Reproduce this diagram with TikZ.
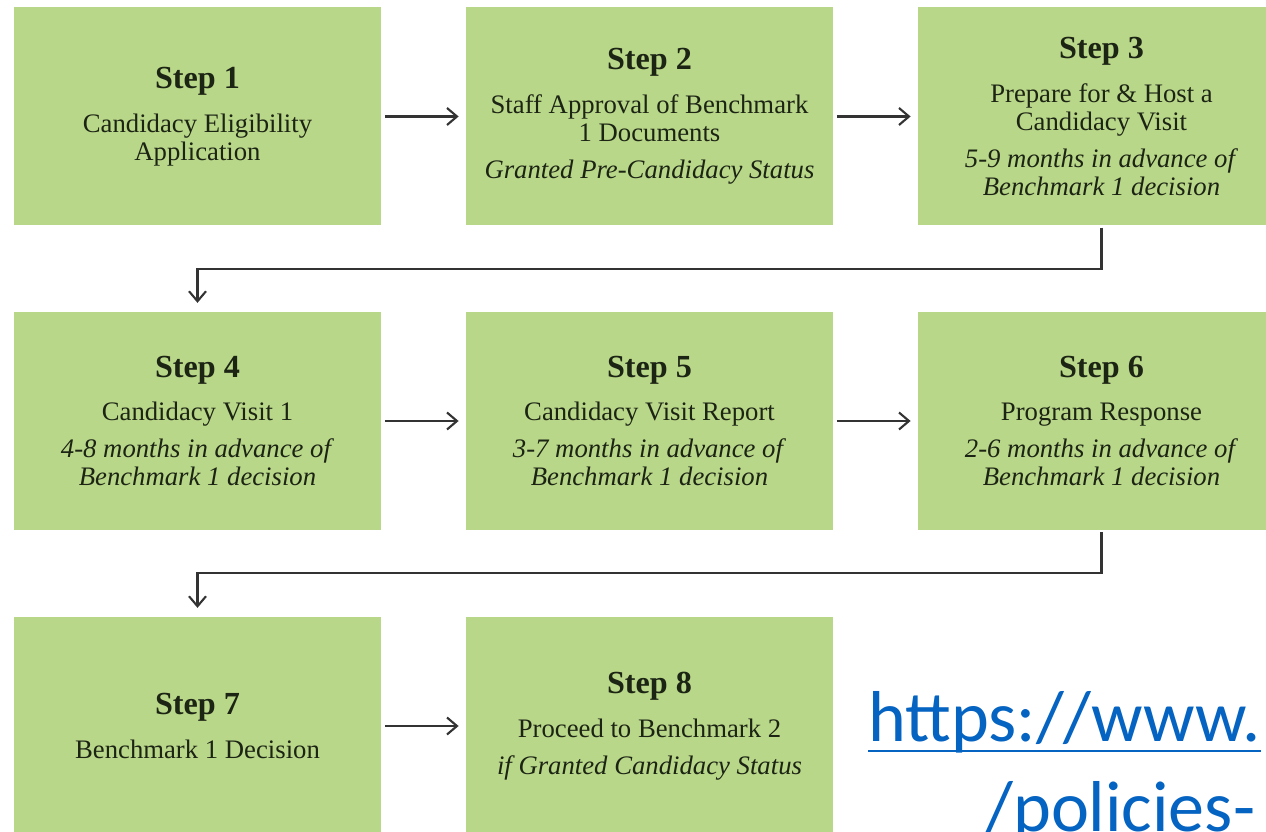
\documentclass[tikz,border=0pt]{standalone}
\usepackage{fontspec}
\setmainfont{Liberation Serif}
\newfontfamily\linkfont{Carlito}
\usepackage{xcolor}
\usepackage{tikz}
\usetikzlibrary{arrows.meta, positioning}
\definecolor{boxgreen}{RGB}{185, 215, 137}
\definecolor{textdark}{RGB}{28, 36, 20}
\definecolor{linkblue}{RGB}{5, 99, 193}
\newcommand{\stephead}[1]{{\fontsize{18.3}{16}\selectfont\bfseries Step #1}}
\tikzset{
    stepbox/.style={
        rectangle,
        fill=boxgreen,
        minimum width=7.34cm,
        minimum height=4.36cm,
        align=center,
        text=textdark,
        inner sep=0pt,
        font=\fontsize{15.2}{16}\selectfont
    },
    flow/.style={
        -{Straight Barb[length=2mm, width=3.4mm]},
        draw=black!80,
        line width=1.2pt
    },
    linktext/.style={
        anchor=base west,
        inner sep=0pt,
        text=linkblue,
        font=\linkfont\fontsize{41}{48}\selectfont
    }
}

\begin{document}
\begin{tikzpicture}
    \path[use as bounding box, clip] (0,0) rectangle (25.32,-16.64);

    % three rows of steps, read left to right
    \node[stepbox] (s1) at (3.95,-2.33) {\stephead{1}\\[9pt]
        Candidacy Eligibility\\Application};
    \node[stepbox] (s2) at (12.99,-2.33) {\stephead{2}\\[9pt]
        Staff Approval of Benchmark\\1 Documents\\[5pt]
        \textit{Granted Pre-Candidacy Status}};
    \node[stepbox] (s3) at (22.03,-2.33) {\stephead{3}\\[9pt]
        Prepare for \& Host a\\Candidacy Visit\\[5pt]
        \textit{5-9 months in advance of}\\\textit{Benchmark 1 decision}};

    \node[stepbox] (s4) at (3.95,-8.42) {\stephead{4}\\[9pt]
        Candidacy Visit 1\\[5pt]
        \textit{4-8 months in advance of}\\\textit{Benchmark 1 decision}};
    \node[stepbox] (s5) at (12.99,-8.42) {\stephead{5}\\[9pt]
        Candidacy Visit Report\\[5pt]
        \textit{3-7 months in advance of}\\\textit{Benchmark 1 decision}};
    \node[stepbox] (s6) at (22.03,-8.42) {\stephead{6}\\[9pt]
        Program Response\\[5pt]
        \textit{2-6 months in advance of}\\\textit{Benchmark 1 decision}};

    \node[stepbox] (s7) at (3.95,-14.52) {\stephead{7}\\[9pt]
        Benchmark 1 Decision};
    \node[stepbox] (s8) at (12.99,-14.52) {\stephead{8}\\[9pt]
        Proceed to Benchmark 2\\[5pt]
        \textit{if Granted Candidacy Status}};

    % link text, cut off at the right edge
    \node[linktext] (url1) at (17.36,-14.82) {https://www.};
    \node[linktext] (url2) at (19.70,-16.62) {/policies-};
    \draw[linkblue, line width=1.5pt]
        ([yshift=-0.2cm]url1.base west) -- ([yshift=-0.2cm]url1.base east);

    % connectors
    \draw[flow, shorten <=2pt, shorten >=4pt] (s1) -- (s2);
    \draw[flow, shorten <=2pt, shorten >=4pt] (s2) -- (s3);
    \draw[flow, shorten <=2pt, shorten >=4pt] (s4) -- (s5);
    \draw[flow, shorten <=2pt, shorten >=4pt] (s5) -- (s6);
    \draw[flow, shorten <=2pt, shorten >=4pt] (s7) -- (s8);
    \draw[flow, shorten <=1pt, shorten >=5pt] (s3.south) -- ++(0,-0.86) -| (s4.north);
    \draw[flow, shorten <=1pt, shorten >=5pt] (s6.south) -- ++(0,-0.86) -| (s7.north);
\end{tikzpicture}
\end{document}
